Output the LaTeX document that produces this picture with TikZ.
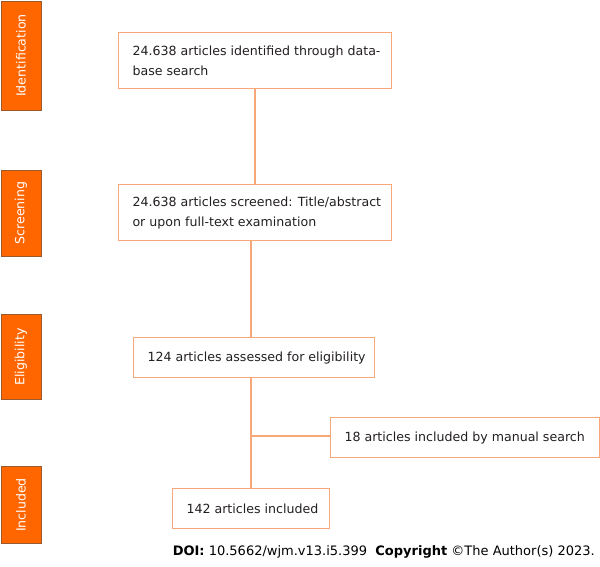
\documentclass[tikz,border=0pt]{standalone}
\usepackage{fontspec}
\setmainfont{DejaVu Sans}
\definecolor{barfill}{HTML}{FF6600}
\definecolor{barline}{HTML}{9A5A30}
\definecolor{boxline}{HTML}{F8A878}
\definecolor{txt}{HTML}{231F20}
\begin{document}
\begin{tikzpicture}[x=1pt,y=-1pt,
  bar/.style={draw=barline,line width=1pt,fill=barfill,inner sep=0pt},
  bartext/.style={text=white,font=\fontsize{12.6}{14}\selectfont,rotate=90},
  flowbox/.style={draw=boxline,line width=1.2pt,fill=white,inner sep=0pt},
  flowtext/.style={text=txt,font=\fontsize{12.6}{20}\selectfont,align=left,anchor=west},
  conn/.style={draw=boxline,line width=1.2pt}]
\useasboundingbox (0,0) rectangle (600,566);
% side bars
\node[bar,minimum width=40,minimum height=109,anchor=north west] (b1) at (0.5,0.5) {};
\node[bartext] at (b1.center) {Identification};
\node[bar,minimum width=40,minimum height=86,anchor=north west] (b2) at (0.5,169.5) {};
\node[bartext] at (b2.center) {Screening};
\node[bar,minimum width=40,minimum height=85,anchor=north west] (b3) at (0.5,314) {};
\node[bartext] at (b3.center) {Eligibility};
\node[bar,minimum width=40,minimum height=77,anchor=north west] (b4) at (0.5,466) {};
\node[bartext] at (b4.center) {Included};
% boxes
\node[flowbox,minimum width=273,minimum height=56,anchor=north west] (n1) at (118,32) {};
\node[flowtext] at ([xshift=11]n1.west) {24.638 articles identified through data-\\base search};
\node[flowbox,minimum width=273,minimum height=56,anchor=north west] (n2) at (118,184) {};
\node[flowtext] at ([xshift=11]n2.west) {24.638 articles screened: Title/abstract\\or upon full-text examination};
\node[flowbox,minimum width=241,minimum height=40,anchor=north west] (n3) at (133,337) {};
\node[flowtext] at ([xshift=11]n3.west) {124 articles assessed for eligibility};
\node[flowbox,minimum width=269,minimum height=40,anchor=north west] (n4) at (330,417) {};
\node[flowtext] at ([xshift=11]n4.west) {18 articles included by manual search};
\node[flowbox,minimum width=157,minimum height=40,anchor=north west] (n5) at (172,488) {};
\node[flowtext] at ([xshift=11]n5.west) {142 articles included};
% connectors
\draw[conn] (n1.south -| 255,0) -- (n2.north -| 255,0);
\draw[conn] (n2.south -| 251,0) -- (n3.north -| 251,0);
\draw[conn] (n3.south -| 251,0) -- (n5.north -| 251,0);
\coordinate (j) at (251,436);
\draw[conn] (j) -- (j -| n4.west);
% footer
\node[anchor=base east,text=black,font=\fontsize{13}{15}\selectfont,inner sep=0pt] (doi) at (595,555) {\textbf{DOI:} 10.5662/wjm.v13.i5.399\ \ \textbf{Copyright} ©The Author(s) 2023.};
\end{tikzpicture}
\end{document}
